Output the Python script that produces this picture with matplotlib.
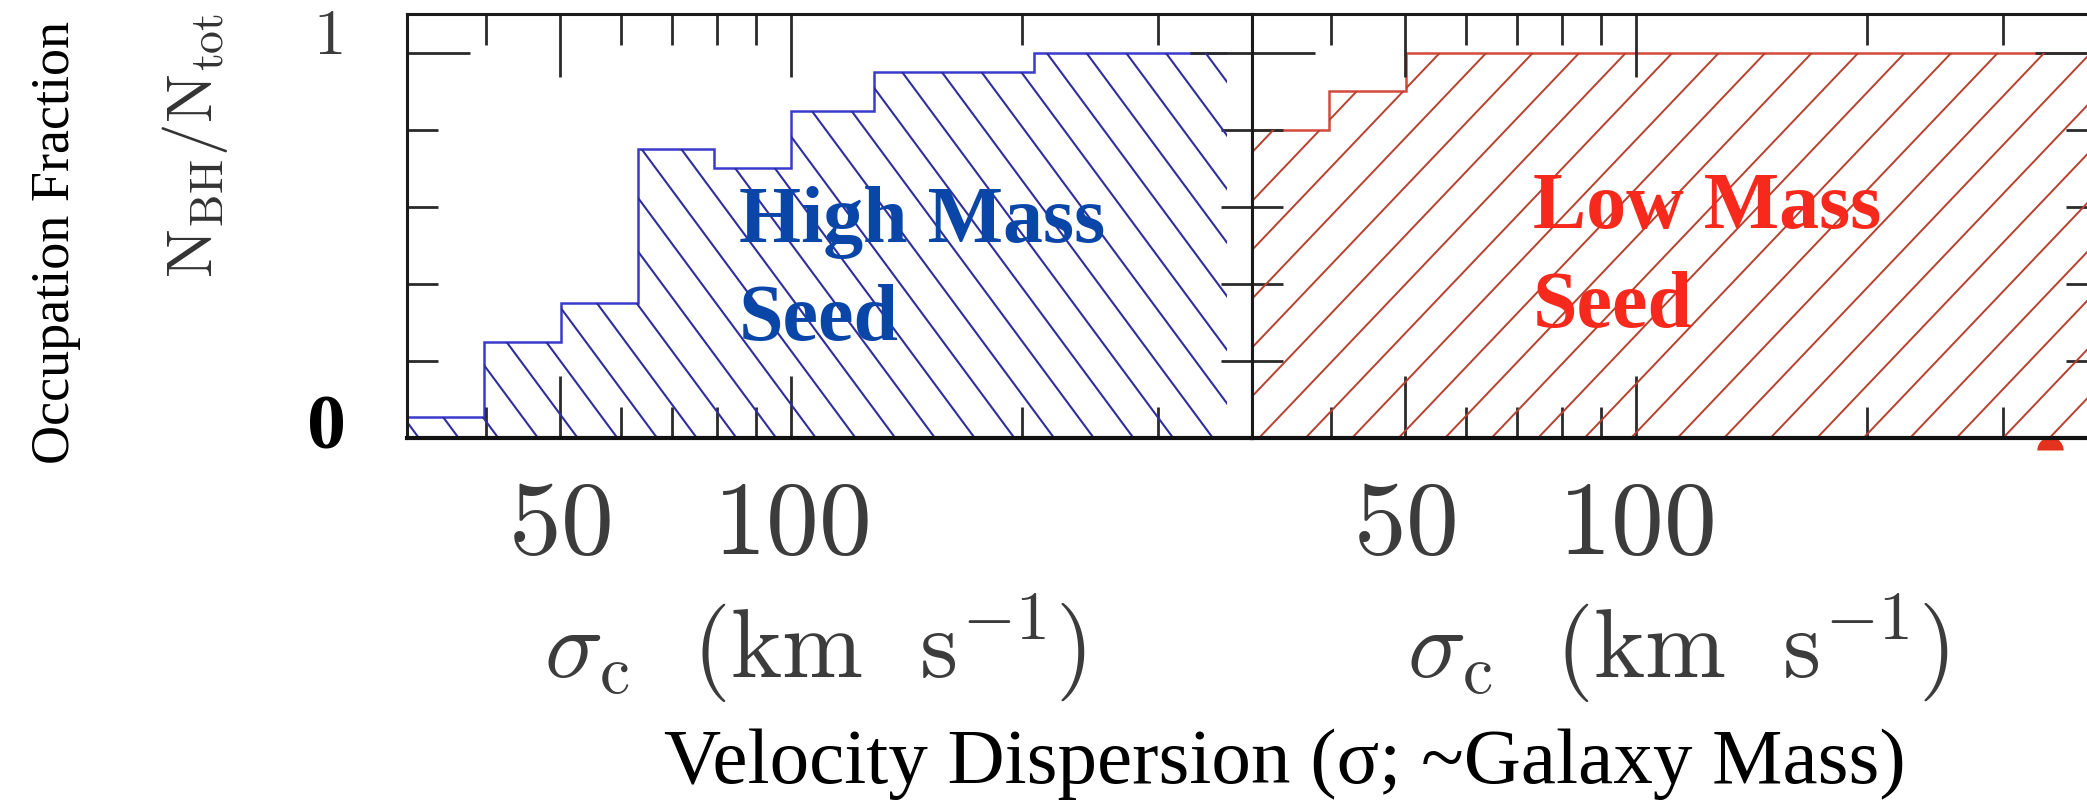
import numpy as np
import matplotlib
matplotlib.use("Agg")
import matplotlib.pyplot as plt
from matplotlib.ticker import FixedLocator, FixedFormatter, NullFormatter
from matplotlib.transforms import offset_copy

plt.rcParams["mathtext.fontset"] = "cm"

# ── data ─────────────────────────────────────────────────────────────────────
high_edges = [31.6, 39.8, 50.1, 63.1, 79.4, 100.0, 128.0, 207.0, 369.0]
high_frac = [0.055, 0.25, 0.35, 0.75, 0.70, 0.85, 0.95, 1.0]

low_edges = [31.6, 39.8, 50.1, 398.0]
low_frac = [0.80, 0.90, 1.0]

low_marker_x = [346.0]
low_marker_y = [-0.03]

x_major = [50, 100]
x_major_labels = [r"$50$", r"$100$"]
x_minor = [40, 60, 70, 80, 90, 200, 300]
y_major = [0, 1]
y_minor = [0.2, 0.4, 0.6, 0.8]

# ── colours ──────────────────────────────────────────────────────────────────
BLUE_TXT = "#0a46a8"
BLUE_LINE = "#3a3acc"
BLUE_HATCH = "#2e2e9e"
RED_TXT = "#f7281c"
RED_LINE = "#d24a3c"
RED_HATCH = "#b8402f"
GREY = "#3c3c3c"
TICK = "#2a2a2a"

W_PX, H_PX = 2087, 802
fig = plt.figure(figsize=(W_PX / 100, H_PX / 100), dpi=100)


def px_rect(x0, y_top, x1, y_bot):
    return [x0 / W_PX, 1 - y_bot / H_PX, (x1 - x0) / W_PX, (y_bot - y_top) / H_PX]


ax_l = fig.add_axes(px_rect(407, 14, 1252, 438))
ax_r = fig.add_axes(px_rect(1252, 14, 2097, 438))


def hatch_fill(ax, edges, values, color, slope, spacing, phase, lw):
    """Slanted hatch lines clipped to the step histogram."""
    patch = ax.stairs(values, edges, baseline=0, fill=True,
                      facecolor="none", edgecolor="none")
    bb = ax.get_position()
    dpi = fig.dpi
    x0, x1 = bb.x0 * W_PX / dpi, bb.x1 * W_PX / dpi
    y0, y1 = bb.y0 * H_PX / dpi, bb.y1 * H_PX / dpi
    h = y1 - y0
    sp, ph = spacing / dpi, phase / dpi
    run = h / abs(slope)
    k0 = int(np.floor((x0 - run - ph) / sp)) - 1
    k1 = int(np.ceil((x1 + run - ph) / sp)) + 1
    for k in range(k0, k1 + 1):
        xb = ph + k * sp
        xt = xb + run if slope > 0 else xb - run
        ln, = ax.plot([xb, xt], [y0, y1], color=color, lw=lw,
                      transform=fig.dpi_scale_trans, solid_capstyle="butt")
        ln.set_clip_path(patch)


for ax in (ax_l, ax_r):
    ax.set_xscale("log")
    ax.set_xlim(31.6, 398)
    ax.set_ylim(0, 1.101)
    ax.xaxis.set_major_locator(FixedLocator(x_major))
    ax.xaxis.set_major_formatter(FixedFormatter(x_major_labels))
    ax.xaxis.set_minor_locator(FixedLocator(x_minor))
    ax.xaxis.set_minor_formatter(NullFormatter())
    ax.yaxis.set_major_locator(FixedLocator(y_major))
    ax.yaxis.set_minor_locator(FixedLocator(y_minor))
    ax.tick_params(which="both", direction="in", top=True, right=True,
                   labelleft=False, color=TICK, width=2.0)
    ax.tick_params(which="major", length=45)
    ax.tick_params(which="minor", length=22)
    ax.tick_params(axis="x", which="major", labelsize=76, labelcolor=GREY, pad=26)
    for side in ("left", "right", "top"):
        ax.spines[side].set_linewidth(2.2)
        ax.spines[side].set_color("#1a1a1a")
    ax.spines["bottom"].set_linewidth(3.0)
    ax.spines["bottom"].set_color("#111111")
    ax.set_xlabel(r"$\sigma_{\rm c}\ \ ({\rm km\ \ s^{-1}})$", fontsize=70, color=GREY)

ax_l.xaxis.set_label_coords(0.483, -0.362)
ax_r.xaxis.set_label_coords(0.504, -0.362)

# high mass seed panel
hatch_fill(ax_l, high_edges, high_frac, BLUE_HATCH, slope=-1.35, spacing=39.7, phase=538, lw=1.5)
ax_l.stairs(high_frac, high_edges, baseline=None, color=BLUE_LINE, lw=1.8)
ax_l.text(0.393, (438 - 242) / 424, "High Mass", transform=ax_l.transAxes,
          color=BLUE_TXT, fontsize=57.5, fontweight="bold", family="Liberation Serif",
          ha="left", va="baseline")
ax_l.text(0.393, (438 - 340) / 424, "Seed", transform=ax_l.transAxes,
          color=BLUE_TXT, fontsize=57.5, fontweight="bold", family="Liberation Serif",
          ha="left", va="baseline")

# low mass seed panel
hatch_fill(ax_r, low_edges, low_frac, RED_HATCH, slope=1.05, spacing=46.5, phase=1910, lw=1.4)
ax_r.stairs(low_frac, low_edges, baseline=None, color=RED_LINE, lw=1.8)
ax_r.plot(low_marker_x, low_marker_y, marker="o", ms=19, fillstyle="top",
          color="#e5321f", mew=0, clip_on=False, ls="none")
ax_r.text((1533 - 1252) / 845, (438 - 228) / 424, "Low Mass", transform=ax_r.transAxes,
          color=RED_TXT, fontsize=57.5, fontweight="bold", family="Liberation Serif",
          ha="left", va="baseline")
ax_r.text((1533 - 1252) / 845, (438 - 327) / 424, "Seed", transform=ax_r.transAxes,
          color=RED_TXT, fontsize=57.5, fontweight="bold", family="Liberation Serif",
          ha="left", va="baseline")

# y tick labels (0 and 1) on the left panel
ytr = ax_l.get_yaxis_transform()
ax_l.text(-0.0935, 1, r"$1$", transform=offset_copy(ytr, fig, x=0, y=12.2, units="points"),
          fontsize=47, color=GREY, ha="center", va="center")
ax_l.text(-0.0947, 0, "0", transform=offset_copy(ytr, fig, x=0, y=5.8, units="points"),
          fontsize=56, color="black", fontweight="bold", family="Liberation Serif",
          ha="center", va="center")

# axis titles
fig.text(195 / W_PX, 1 - 145 / H_PX, r"$\mathrm{N}_{\rm BH}/\mathrm{N}_{\rm tot}$", rotation=90,
         fontsize=47, color="#333333", ha="center", va="center")
fig.text(56 / W_PX, 1 - 242 / H_PX, "Occupation Fraction", rotation=90,
         fontsize=39, color="black", family="Liberation Serif", ha="center", va="center")
fig.text(1285 / W_PX, 1 - 783 / H_PX, "Velocity Dispersion (σ; ~Galaxy Mass)",
         fontsize=57, color="black", family="Liberation Serif", ha="center", va="baseline")

fig.savefig("out.png", dpi=100, facecolor="white")
